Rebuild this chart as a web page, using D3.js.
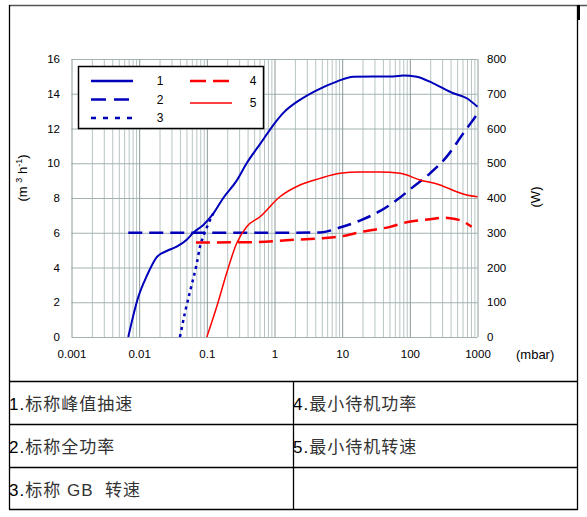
<html>
<head>
<meta charset="utf-8">
<title>Pump curves</title>
<style>
  body { margin: 0; background: #fff; }
  text { font-family: "Liberation Sans", Arial, sans-serif; }
  .cn { font-family: "Liberation Sans", "Noto Sans CJK SC", sans-serif; white-space: pre; letter-spacing: 1px; }
  .axis .domain { display: none; }
  .axis text { font-size: 11.5px; fill: #000; }
</style>
<script src="https://d3js.org/d3.v7.min.js"></script>
</head>
<body>
<svg width="587" height="517"></svg>
<script>
// series 1: nominal peak pumping speed (m3/h, left axis)
var pressure1 = [0.0069,0.0097,0.0129,0.0182,0.0255,0.0359,0.0504,0.063,0.0887,0.1245,0.175,0.276,0.388,0.611,0.96,1.35,2.38,4.2,8.3,14.6,28.8,56.9,80,126,222,439,692,1000];
var speed1 = [0,2.3,3.5,4.6,4.95,5.2,5.6,6.0,6.45,7.1,8.0,9.0,10.0,11.1,12.2,12.9,13.65,14.2,14.7,14.98,15.0,15.0,15.05,14.98,14.6,14.03,13.74,13.25];
// series 2: nominal full power (W, right axis)
var pressure2 = [0.0069,2,4.7,9.3,18.3,36,64,112,199,351,617,1000];
var power2 = [300,300,301,315,335,362,394,432,471,519,586,642];
// series 3: nominal GB speed (left axis)
var pressure3 = [0.040,0.0475,0.0597,0.0708,0.0792,0.0887,0.105,0.124];
var speed3 = [0,1.4,3.0,4.2,5.2,5.8,6.5,7.1];
// series 4: minimum standby power (right axis)
var pressure4 = [0.069,0.5,1.7,4.7,9.3,20,51,90,199,312,392,617,820];
var power4 = [272,273,279,284,289,303,317,330,339,343,342,332,317];
// series 5: minimum standby speed (left axis)
var pressure5 = [0.1,0.14,0.196,0.276,0.388,0.61,1.2,2.38,4.7,9.3,18.3,36,72,141,279,492,692,1000];
var speed5 = [0,1.74,3.67,5.4,6.35,6.92,8.07,8.75,9.13,9.42,9.5,9.5,9.42,9.04,8.75,8.36,8.17,8.07];

var xTicks = [0.001,0.01,0.1,1,10,100,1000];
var leftTicks = [0,2,4,6,8,10,12,14,16];
var rightTicks = [0,100,200,300,400,500,600,700,800];
var seriesNames = ["1","2","3","4","5"];
var tableLeft = ["1.|标称峰值抽速","2.|标称全功率","3.|标称 GB  转速"];
var tableRight = ["4.|最小待机功率","5.|最小待机转速",""];

var svg = d3.select("svg");

var x = d3.scaleLog().domain([0.001,1000]).range([71.5,477.5]);
var yL = d3.scaleLinear().domain([0,16]).range([337,59]);
var yR = d3.scaleLinear().domain([0,800]).range([337,59]);

// grid
var minor = [];
for (var e=-3; e<3; e++) for (var k=2; k<10; k++) minor.push(k*Math.pow(10,e));

var grid = svg.append("g");
grid.append("g").attr("transform","translate(0,337)")
  .call(d3.axisBottom(x).tickValues(minor).tickSize(-278).tickFormat(""))
  .call(g=>g.select(".domain").remove())
  .selectAll("line").attr("stroke","#b7c4c4");
grid.append("g").attr("transform","translate(71.5,0)")
  .call(d3.axisLeft(yL).tickValues(leftTicks).tickSize(-406).tickFormat(""))
  .call(g=>g.select(".domain").remove())
  .selectAll("line").attr("stroke","#a3b1b1");
grid.append("g").attr("transform","translate(0,337)")
  .call(d3.axisBottom(x).tickValues(xTicks).tickSize(-278).tickFormat(""))
  .call(g=>g.select(".domain").remove())
  .selectAll("line").attr("stroke","#8a9a9a");

// axis labels
svg.append("g").attr("class","axis").attr("transform","translate(62,0)")
  .call(d3.axisLeft(yL).tickValues(leftTicks).tickSize(0).tickPadding(2));
svg.append("g").attr("class","axis").attr("transform","translate(484,0)")
  .call(d3.axisRight(yR).tickValues(rightTicks).tickSize(0).tickPadding(3));
svg.append("g").attr("class","axis").attr("transform","translate(0,350)")
  .call(d3.axisBottom(x).tickValues(xTicks).tickSize(0).tickPadding(0).tickFormat(d3.format("~g")));

svg.append("text").attr("x",516).attr("y",359).attr("font-size",13).text("(mbar)");

var lt = svg.append("text").attr("transform","translate(27,178) rotate(-90)")
  .attr("text-anchor","middle").attr("font-size",13);
lt.append("tspan").text("(m ");
lt.append("tspan").attr("font-size",9).attr("dy",-5).text("3");
lt.append("tspan").attr("dy",5).text(" h");
lt.append("tspan").attr("font-size",9).attr("dy",-5).text("-1");
lt.append("tspan").attr("dy",5).text(")");

svg.append("text").attr("transform","translate(540,197) rotate(-90)")
  .attr("text-anchor","middle").attr("font-size",13).text("(W)");

// curves
var blue = "#0000bb", red = "#ff0000";
var series = [
  {p:pressure1, v:speed1, y:yL, color:blue, width:2, dash:null},
  {p:pressure2, v:power2, y:yR, color:blue, width:2.5, dash:"14,7"},
  {p:pressure3, v:speed3, y:yL, color:blue, width:2.5, dash:"3,4"},
  {p:pressure4, v:power4, y:yR, color:red, width:2.5, dash:"14,7"},
  {p:pressure5, v:speed5, y:yL, color:red, width:1.5, dash:null}
];

series.forEach(function(s){
  var line = d3.line().x(d=>x(d[0])).y(d=>s.y(d[1])).curve(d3.curveMonotoneX);
  svg.append("path")
    .datum(s.p.map((p,i)=>[p,s.v[i]]))
    .attr("d",line)
    .attr("fill","none")
    .attr("stroke",s.color)
    .attr("stroke-width",s.width)
    .attr("stroke-dasharray",s.dash);
});

// legend
var lg = svg.append("g");
lg.append("rect").attr("x",78.5).attr("y",66.5).attr("width",185).attr("height",62)
  .attr("fill","#fff").attr("stroke","#000").attr("stroke-width",1.5);
var legPos = [[91,81],[91,99.5],[91,118],[190,81],[190,103]];
series.forEach(function(s,i){
  var px = legPos[i][0], py = legPos[i][1];
  lg.append("line").attr("x1",px).attr("x2",px+42).attr("y1",py).attr("y2",py)
    .attr("stroke",s.color).attr("stroke-width",i==4?1.5:2.5)
    .attr("stroke-dasharray", i==1 ? "15,8" : i==2 ? "5,7" : i==3 ? "16,7" : null);
  lg.append("text").attr("x",px+(i<3?69:63)).attr("y",py+4).attr("text-anchor","middle")
    .attr("font-size",12).text(seriesNames[i]);
});

// frame and table
var frame = svg.append("g").attr("stroke","#000").attr("stroke-width",1.3);
frame.append("line").attr("x1",9).attr("x2",587).attr("y1",5.5).attr("y2",5.5).attr("stroke","#555");
frame.append("line").attr("x1",9.5).attr("x2",9.5).attr("y1",5).attr("y2",509.5);
frame.append("line").attr("x1",577.5).attr("x2",577.5).attr("y1",5).attr("y2",509.5);
svg.append("rect").attr("x",577).attr("y",5).attr("width",3).attr("height",15).attr("fill","#000");
[381,424,467,509].forEach(function(yy){
  frame.append("line").attr("x1",9).attr("x2",578).attr("y1",yy+0.5).attr("y2",yy+0.5);
});
frame.append("line").attr("x1",293.5).attr("x2",293.5).attr("y1",381).attr("y2",509.5);

function cell(str, tx, ty){
  if (!str) return;
  var parts = str.split("|");
  var t = svg.append("text").attr("class","cn").attr("x",tx).attr("y",ty).attr("font-size",17);
  t.append("tspan").attr("fill","#000").text(parts[0]);
  t.append("tspan").attr("fill","#333").text(parts[1]);
}
tableLeft.forEach((s,i)=>cell(s,9,410+i*43));
tableRight.forEach((s,i)=>cell(s,293,410+i*43));
</script>
</body>
</html>
